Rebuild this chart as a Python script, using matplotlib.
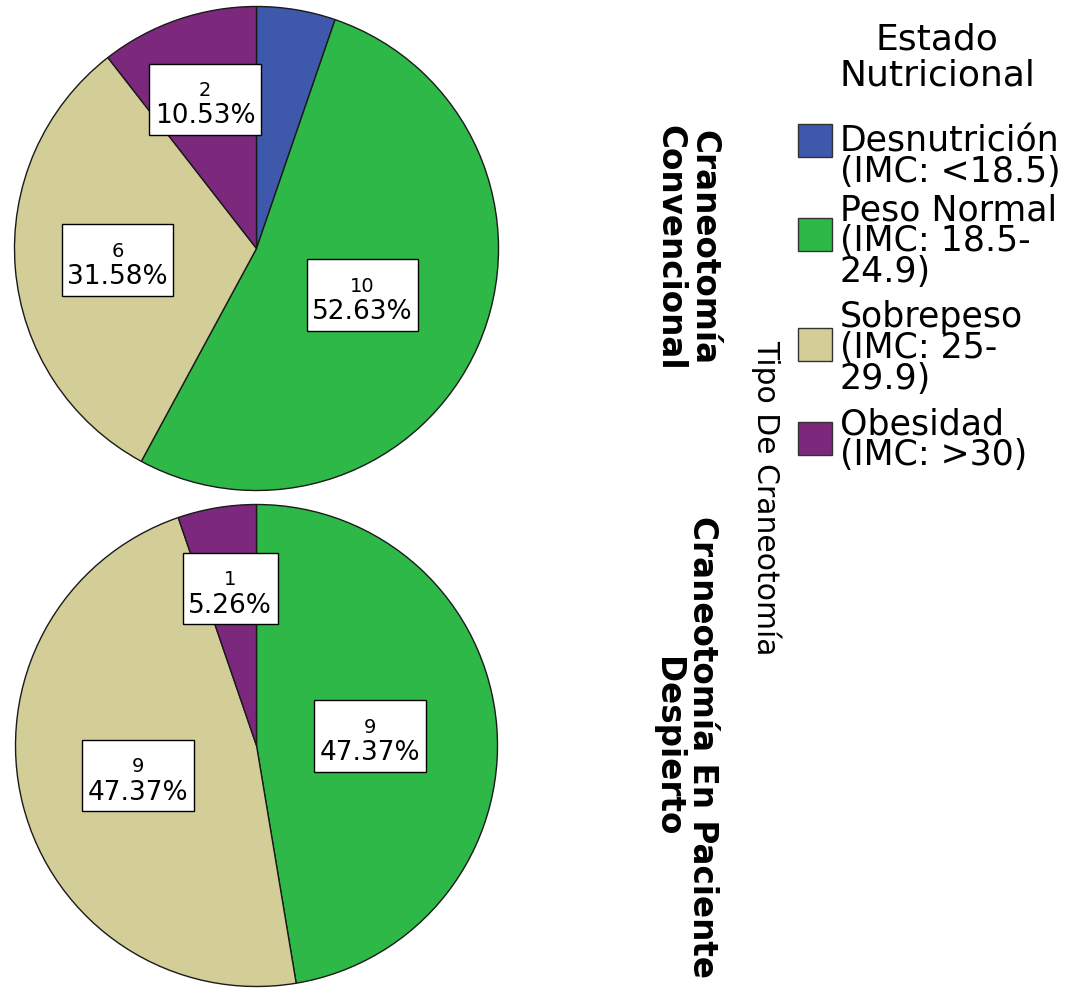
import matplotlib
matplotlib.use("Agg")
import matplotlib.pyplot as plt
import numpy as np
from matplotlib.offsetbox import AnnotationBbox, DrawingArea, TextArea, VPacker
from matplotlib.patches import Rectangle

# ── data ────────────────────────────────────────────────────────────────────
categories = [
    "Desnutrición\n(IMC: <18.5)",
    "Peso Normal\n(IMC: 18.5-\n24.9)",
    "Sobrepeso\n(IMC: 25-\n29.9)",
    "Obesidad\n(IMC: >30)",
]
colors = ["#3E58AC", "#2EB848", "#D3CE97", "#7C287D"]
groups = ["Craneotomía\nConvencional", "Craneotomía En Paciente\nDespierto"]
conv_counts = [1, 10, 6, 2]
awake_counts = [0, 9, 9, 1]
conv_show = [False, True, True, True]
awake_show = [False, True, True, True]
legend_title = "Estado\nNutricional"
panel_title = "Tipo De Craneotomía"

# ── layout (pixels of the 1077x988 canvas) ─────────────────────────────────
W, H = 1077, 988
pie_centers = [(256.5, 248.5), (256.5, 745.5)]
pie_radius = [242, 241]
label_frac = [[0.0, 0.478, 0.576, 0.652], [0.0, 0.474, 0.506, 0.66]]
group_label_xy = [(687, 248), (685, 747)]
legend_sq_x, legend_sq_w, legend_sq_h = 798, 34, 33
legend_sq_top = [124, 218, 328, 422]
legend_first_base = [151, 220, 327, 434]
legend_pitch = 31
legend_text_x = 840

fig = plt.figure(figsize=(W / 100, H / 100), dpi=100)


def draw_pie(counts, show, center, r, fracs):
    cx, cy = center
    ax = fig.add_axes([(cx - r) / W, (H - cy - r) / H, 2 * r / W, 2 * r / H])
    idx = [i for i, v in enumerate(counts) if v > 0]
    vals = [counts[i] for i in idx]
    wedges, _ = ax.pie(
        vals, colors=[colors[i] for i in idx], startangle=90,
        counterclock=False, radius=1.0,
        wedgeprops=dict(edgecolor="#1a1a1a", linewidth=1.0),
    )
    total = sum(counts)
    for w, i in zip(wedges, idx):
        w.set_clip_on(False)
        if not show[i]:
            continue
        mid = np.deg2rad((w.theta1 + w.theta2) / 2)
        x, y = fracs[i] * np.cos(mid), fracs[i] * np.sin(mid)
        box = VPacker(children=[
            DrawingArea(1, 6),
            TextArea(str(counts[i]), textprops=dict(size=14)),
            TextArea(f"{counts[i] / total * 100:.2f}%", textprops=dict(size=19)),
        ], align="center", pad=3, sep=2.5)
        ab = AnnotationBbox(box, (x, y), xycoords="data", frameon=True, pad=0.1,
                            bboxprops=dict(facecolor="white", edgecolor="black", linewidth=1))
        ax.add_artist(ab)
    ax.set_xlim(-1, 1)
    ax.set_ylim(-1, 1)
    ax.axis("off")


draw_pie(conv_counts, conv_show, pie_centers[0], pie_radius[0], label_frac[0])
draw_pie(awake_counts, awake_show, pie_centers[1], pie_radius[1], label_frac[1])

# ── overlay: side labels + legend ───────────────────────────────────────────
ov = fig.add_axes([0, 0, 1, 1])
ov.set_xlim(0, W)
ov.set_ylim(H, 0)
ov.axis("off")

for (x, y), g in zip(group_label_xy, groups):
    ov.text(x, y, g, rotation=270, ha="center", va="center", multialignment="center",
            fontsize=23.5, fontweight="bold", linespacing=1.05)
ov.text(766, 498, panel_title, rotation=270, ha="center", va="center", fontsize=21.5)

ov.text(937, 50, legend_title.split("\n")[0], ha="center", va="baseline", fontsize=26)
ov.text(937, 86, legend_title.split("\n")[1], ha="center", va="baseline", fontsize=26)

for cat, col, top, base in zip(categories, colors, legend_sq_top, legend_first_base):
    ov.add_patch(Rectangle((legend_sq_x, top), legend_sq_w, legend_sq_h,
                           facecolor=col, edgecolor="#333333", linewidth=1))
    for k, line in enumerate(cat.split("\n")):
        ov.text(legend_text_x, base + k * legend_pitch, line, ha="left",
                va="baseline", fontsize=25)

fig.savefig("out.png", dpi=100)
